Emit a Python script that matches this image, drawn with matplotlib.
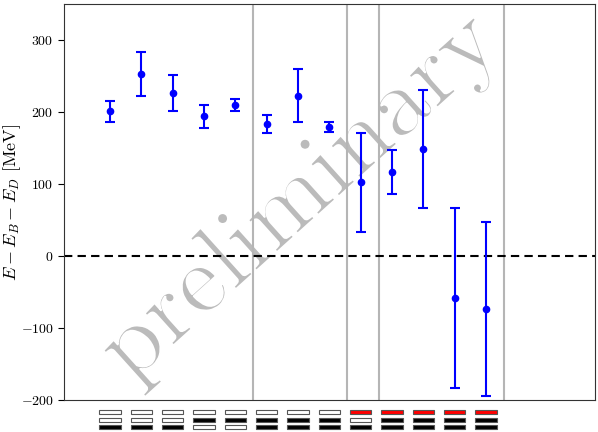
import numpy as np
import matplotlib
matplotlib.use("Agg")
import matplotlib.pyplot as plt
import matplotlib.patheffects as pe

plt.rcParams['font.family'] = 'serif'
plt.rcParams['font.serif'] = ['cmr10', 'DejaVu Serif']
plt.rcParams['mathtext.fontset'] = 'cm'
plt.rcParams['axes.formatter.use_mathtext'] = True

# energy differences and errors (MeV)
energy = [201, 252.5, 226, 194, 209.7, 183, 222.5, 179.5, 102.5, 116.8, 149, -58, -74]
error = [14.5, 30.5, 24.7, 16, 8.7, 12.5, 37, 7.2, 69, 30.3, 82, 125, 121]
# operator content, three rows per column (w = empty, k = filled, r = red)
row_top = ['w'] * 8 + ['r'] * 5
row_mid = ['w', 'w', 'w', 'k', 'k', 'k', 'k', 'k', 'w', 'k', 'k', 'k', 'k']
row_bot = ['k', 'k', 'k', 'w', 'w', 'k', 'k', 'k', 'k', 'k', 'k', 'k', 'k']
group_ends = [4, 7, 8, 12]

x = np.arange(len(energy))
W, H = 598, 432
fig = plt.figure(figsize=(W / 100, H / 100), dpi=100)
ax = fig.add_axes([64 / W, 1 - 400 / H, 531 / W, 396 / H])

# watermark, thinned a bit with a white outline
ax.text(0.446, 0.51, "preliminary", transform=ax.transAxes, fontsize=72,
        color='#bbbbbb', rotation=42, ha='center', va='center', zorder=0,
        path_effects=[pe.Normal(), pe.Stroke(linewidth=1.4, foreground='white')])

ax.errorbar(x, energy, yerr=error, fmt='o', color='blue', ms=4.5, lw=1.5,
            capsize=3.5, capthick=1.5, zorder=3)
ax.axhline(0, color='black', ls='--', lw=1.5, dashes=(4, 2.5), zorder=2)
for g in group_ends:
    ax.axvline(g + 0.575, color='#b5b5b5', lw=1.5, zorder=1)

ax.set_xlim(-1.468, 15.48)
ax.set_ylim(-200, 350)
ax.set_yticks([-200, -100, 0, 100, 200, 300])
ax.set_xticks([])
ax.tick_params(axis='y', labelsize=10, length=4)
ax.set_ylabel(r"$E - E_B - E_D$ [MeV]", fontsize=13)
ax.yaxis.set_label_coords(-0.078, 0.5)
for s in ax.spines.values():
    s.set_color('#333333')

# operator boxes below the axis
ax2 = fig.add_axes([64 / W, 0, 531 / W, 27 / H])
ax2.set_xlim(ax.get_xlim())
ax2.set_ylim(-0.68, 3.02)
ax2.axis('off')
colors = {'w': 'white', 'k': 'black', 'r': 'red'}
for level, row in zip([2, 1, 0], [row_top, row_mid, row_bot]):
    ax2.bar(x, 0.55, bottom=level - 0.275, width=0.68,
            color=[colors[c] for c in row], edgecolor='#555555', lw=0.8)

fig.savefig("out.png", dpi=100)
